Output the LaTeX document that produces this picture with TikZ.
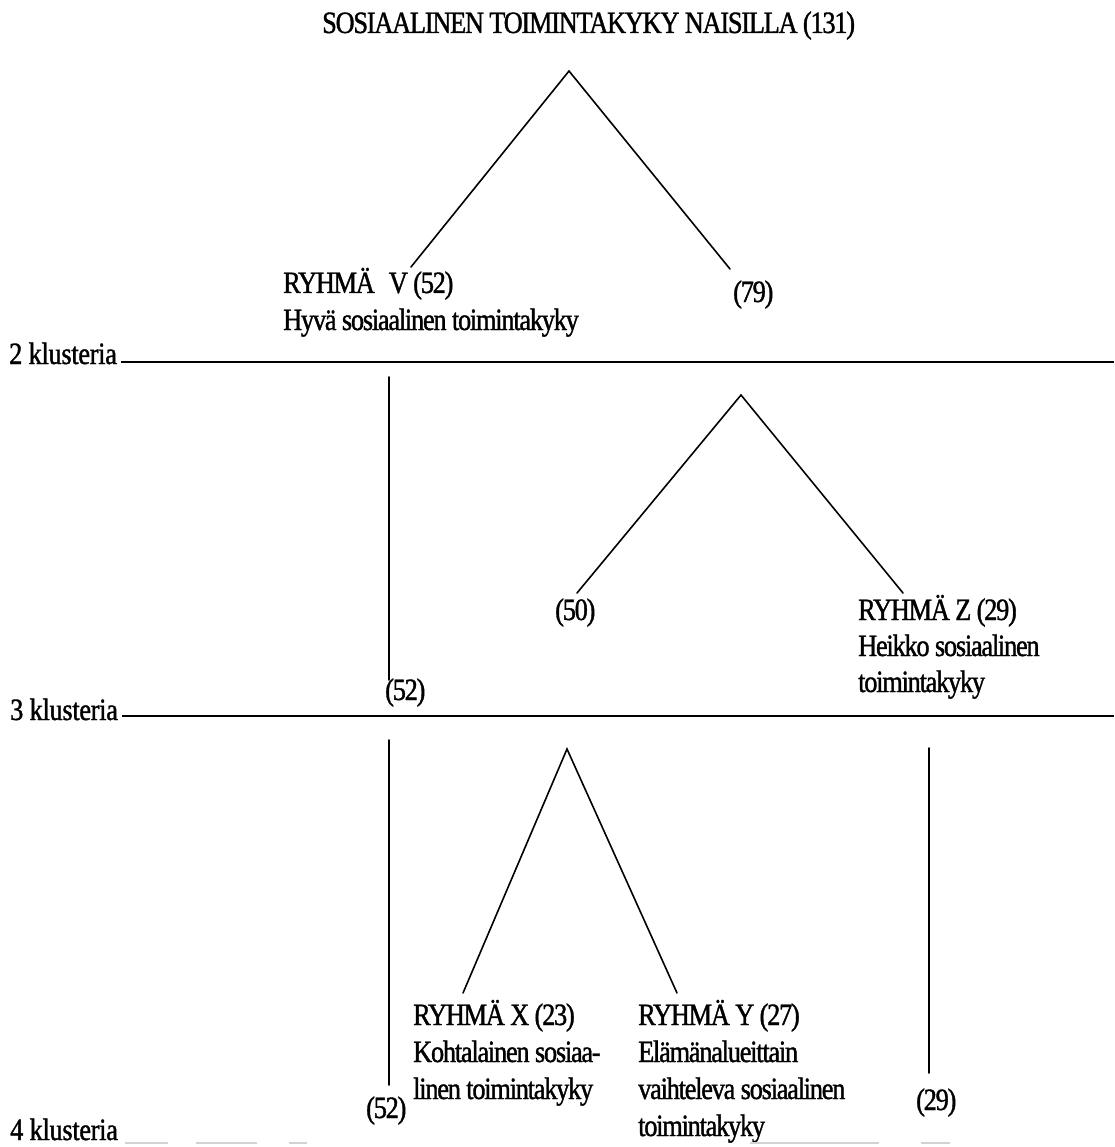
\documentclass[tikz,border=0pt]{standalone}
\usepackage{fontspec}
\setmainfont{Liberation Serif}[FakeStretch=0.85, LetterSpace=-4, FakeBold=1.2]
\begin{document}
\begin{tikzpicture}[x=1pt, y=-1pt,
  lbl/.style={inner sep=0pt, anchor=base west, font=\fontsize{31}{37}\selectfont},
  lvl/.style={lbl, font=\fontsize{31}{37}\selectfont\addfontfeatures{LetterSpace=-1}},
  edge/.style={line width=1.6pt, line cap=round},
  level/.style={line width=1.8pt},
  faint/.style={line width=2pt, gray!35}]
\useasboundingbox (0,0) rectangle (1114,1147);

% title
\node[lbl] (title) at (322,33) {SOSIAALINEN TOIMINTAKYKY NAISILLA (131)};

% first split
\coordinate (a1) at (569,71);
\coordinate (a1l) at (411,267);
\coordinate (a1r) at (730,269);
\draw[edge] (a1l) -- (a1) -- (a1r);
\node[lbl] (v1) at (283,293) {RYHMÄ\hspace{14pt}V (52)};
\node[lbl] (v2) at (283,330) {Hyvä sosiaalinen toimintakyky};
\node[lbl] (n79) at (733,302) {(79)};

% level: 2 clusters
\node[lvl] (k2) at (9,364) {2 klusteria};
\coordinate (k2s) at (121,362);
\coordinate (k2e) at (1114,362);
\draw[level] (k2s) -- (k2e);

% group V carried down
\coordinate (vt1) at (389,377);
\coordinate (vb1) at (389,680);
\draw[edge] (vt1) -- (vb1);
\node[lbl] (n52a) at (385,700) {(52)};

% second split
\coordinate (a2) at (741,395);
\coordinate (a2l) at (577,593);
\coordinate (a2r) at (903,593);
\draw[edge] (a2l) -- (a2) -- (a2r);
\node[lbl] (n50) at (555,620) {(50)};
\node[lbl] (z1) at (858,620) {RYHMÄ Z (29)};
\node[lbl] (z2) at (858,656) {Heikko sosiaalinen};
\node[lbl] (z3) at (858,692) {toimintakyky};

% level: 3 clusters
\node[lvl] (k3) at (10,720) {3 klusteria};
\coordinate (k3s) at (122,716);
\coordinate (k3e) at (1114,716);
\draw[level] (k3s) -- (k3e);

% group V and group Z carried down
\coordinate (vt2) at (389,740);
\coordinate (vb2) at (389,1085);
\draw[edge] (vt2) -- (vb2);
\node[lbl] (n52b) at (366,1118) {(52)};
\coordinate (zt) at (929,748);
\coordinate (zb) at (929,1073);
\draw[edge] (zt) -- (zb);
\node[lbl] (n29) at (916,1110) {(29)};

% third split
\coordinate (a3) at (567,749);
\coordinate (a3l) at (463,993);
\coordinate (a3r) at (677,993);
\draw[edge] (a3l) -- (a3) -- (a3r);
\node[lbl] (x1) at (413,1025) {RYHMÄ X (23)};
\node[lbl] (x2) at (413,1062) {Kohtalainen sosiaa-};
\node[lbl] (x3) at (413,1099) {linen toimintakyky};
\node[lbl] (y1) at (638,1025) {RYHMÄ Y (27)};
\node[lbl] (y2) at (638,1062) {Elämänalueittain};
\node[lbl] (y3) at (638,1099) {vaihteleva sosiaalinen};
\node[lbl] (y4) at (638,1136) {toimintakyky};

% level: 4 clusters (faded rule)
\node[lvl] (k4) at (10,1140) {4 klusteria};
\coordinate (f1) at (125,1143); \coordinate (f2) at (168,1143);
\coordinate (f3) at (196,1143); \coordinate (f4) at (257,1143);
\coordinate (f5) at (289,1143); \coordinate (f6) at (307,1143);
\coordinate (f7) at (750,1143); \coordinate (f8) at (879,1143);
\coordinate (f9) at (921,1143); \coordinate (f10) at (950,1143);
\draw[faint] (f1) -- (f2) (f3) -- (f4) (f5) -- (f6) (f7) -- (f8) (f9) -- (f10);
\end{tikzpicture}
\end{document}
